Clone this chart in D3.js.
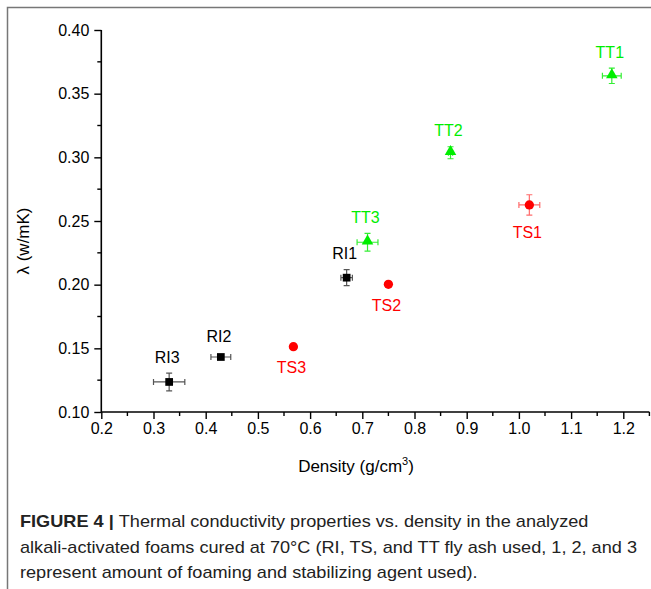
<!DOCTYPE html>
<html>
<head>
<meta charset="utf-8">
<script src="https://cdn.jsdelivr.net/npm/d3@7"></script>
<style>
  body { margin: 0; background: #fff; }
  svg { display: block; font-family: "Liberation Sans", Arial, sans-serif; }
</style>
</head>
<body>
<div id="chart"></div>
<script>
// RI series
var riNames = ["RI1", "RI2", "RI3"],
  riDensity = [0.67, 0.429, 0.33],
  riLambda = [0.2055, 0.1432, 0.1236],
  riDensityErr = [0.011, 0.019, 0.03],
  riLambdaErr = [0.0063, 0.0015, 0.007];

// TS series
var tsNames = ["TS1", "TS2", "TS3"],
  tsDensity = [1.02, 0.75, 0.568],
  tsLambda = [0.2626, 0.2003, 0.1513],
  tsDensityErr = [0.02, 0.005, 0.005],
  tsLambdaErr = [0.008, 0.002, 0.002];

// TT series
var ttNames = ["TT1", "TT2", "TT3"],
  ttDensity = [1.178, 0.869, 0.71],
  ttLambda = [0.364, 0.3036, 0.2333],
  ttDensityErr = [0.018, 0.004, 0.02],
  ttLambdaErr = [0.006, 0.0047, 0.007];

var xTicks = [0.2, 0.3, 0.4, 0.5, 0.6, 0.7, 0.8, 0.9, 1.0, 1.1, 1.2];
var yTicks = [0.10, 0.15, 0.20, 0.25, 0.30, 0.35, 0.40];

var captionLines = [
  "Thermal conductivity properties vs. density in the analyzed",
  "alkali-activated foams cured at 70°C (RI, TS, and TT fly ash used, 1, 2, and 3",
  "represent amount of foaming and stabilizing agent used)."
];

var w = 651,
  h = 589;

var x = d3.scaleLinear().domain([0.2, 1.25]).range([101.3, 649.4]);
var y = d3.scaleLinear().domain([0.1, 0.4]).range([412, 30]);

var svg = d3.select("#chart").append("svg")
  .attr("width", w)
  .attr("height", h);

// frame round the figure
svg.append("path")
  .attr("d", "M7.5,589V7.5H651")
  .attr("fill", "none")
  .attr("stroke", "#777")
  .attr("stroke-width", 1.5);

// axes
var xAxis = d3.axisBottom(x).tickValues(xTicks).tickSize(7).tickPadding(4)
  .tickFormat(d3.format(".1f"));
var yAxis = d3.axisLeft(y).tickValues(yTicks).tickSize(7).tickPadding(5)
  .tickFormat(d3.format(".2f"));

var gx = svg.append("g").attr("transform", "translate(0," + y(0.1) + ")").call(xAxis);
var gy = svg.append("g").attr("transform", "translate(" + x(0.2) + ",0)").call(yAxis);

[gx, gy].forEach(function (g) {
  g.select(".domain").attr("stroke", "#000").attr("stroke-width", 1.6);
  g.selectAll(".tick line").attr("stroke", "#000").attr("stroke-width", 1.4);
  g.selectAll(".tick text").attr("fill", "#000").style("font-size", "16px")
    .style("font-family", "'Liberation Sans', Arial, sans-serif");
});
gx.select(".domain").attr("d", "M" + x(0.2) + ",0H" + x(1.25));
gy.select(".domain").attr("d", "M0," + y(0.1) + "V" + y(0.4));

// minor ticks
var xMinor = d3.range(0.25, 1.26, 0.1);
var yMinor = d3.range(0.125, 0.4, 0.05);
gx.selectAll(".minor").data(xMinor).enter().append("line")
  .attr("x1", function (d) { return x(d); })
  .attr("x2", function (d) { return x(d); })
  .attr("y1", 0).attr("y2", 4)
  .attr("stroke", "#000").attr("stroke-width", 1.4);
gy.selectAll(".minor").data(yMinor).enter().append("line")
  .attr("y1", function (d) { return y(d); })
  .attr("y2", function (d) { return y(d); })
  .attr("x1", 0).attr("x2", -4)
  .attr("stroke", "#000").attr("stroke-width", 1.4);

// axis titles
var xt = svg.append("text")
  .attr("x", 356).attr("y", 472)
  .attr("text-anchor", "middle")
  .style("font-size", "17px");
xt.append("tspan").text("Density (g/cm");
xt.append("tspan").attr("dy", -7).style("font-size", "11px").text("3");
xt.append("tspan").attr("dy", 7).text(")");

svg.append("text")
  .attr("transform", "translate(29,241) rotate(-90)")
  .attr("text-anchor", "middle")
  .style("font-size", "17px")
  .text("λ (w/mK)");

// series
function series(names, dens, lam, dErr, lErr, opts) {
  var data = names.map(function (n, i) {
    return { name: n, x: dens[i], y: lam[i], dx: dErr[i], dy: lErr[i] };
  });
  var g = svg.append("g");
  var cap = 3;
  data.forEach(function (d) {
    var px = x(d.x), py = y(d.y);
    var x0 = x(d.x - d.dx), x1 = x(d.x + d.dx);
    var y0 = y(d.y - d.dy), y1 = y(d.y + d.dy);
    var path = "M" + x0 + "," + py + "H" + x1 +
      "M" + x0 + "," + (py - cap) + "V" + (py + cap) +
      "M" + x1 + "," + (py - cap) + "V" + (py + cap) +
      "M" + px + "," + y0 + "V" + y1 +
      "M" + (px - cap) + "," + y0 + "H" + (px + cap) +
      "M" + (px - cap) + "," + y1 + "H" + (px + cap);
    g.append("path").attr("d", path)
      .attr("fill", "none")
      .attr("stroke", opts.errColor)
      .attr("stroke-width", 1.2);

    g.append("path")
      .attr("d", d3.symbol().type(opts.symbol).size(opts.size)())
      .attr("transform", "translate(" + px + "," + (py + (opts.shift || 0)) + ")")
      .attr("fill", opts.color);

    var ly = opts.above ? Math.min(y1, py - 4) - 16 : Math.max(y0, py + 4) + 17;
    g.append("text")
      .attr("x", px - 2).attr("y", ly)
      .attr("text-anchor", "middle")
      .attr("dominant-baseline", "central")
      .attr("fill", opts.color)
      .style("font-size", "16px")
      .text(d.name);
  });
}

series(riNames, riDensity, riLambda, riDensityErr, riLambdaErr,
  { color: "#000", errColor: "#555", symbol: d3.symbolSquare, size: 60, above: true });
series(tsNames, tsDensity, tsLambda, tsDensityErr, tsLambdaErr,
  { color: "#ff0000", errColor: "#ff6b6b", symbol: d3.symbolCircle, size: 68, above: false });
series(ttNames, ttDensity, ttLambda, ttDensityErr, ttLambdaErr,
  { color: "#00ee00", errColor: "#33ee33", symbol: d3.symbolTriangle, size: 58, above: true, shift: -1 });

// caption, squeezed a little to look like the condensed journal face
var capTexts = [];
var cap1 = svg.append("text").attr("x", 20).attr("y", 527);
cap1.append("tspan").style("font-weight", "bold").text("FIGURE 4 | ");
cap1.append("tspan").text(captionLines[0]);
capTexts.push(cap1);
capTexts.push(svg.append("text").attr("x", 20).attr("y", 553).text(captionLines[1]));
capTexts.push(svg.append("text").attr("x", 20).attr("y", 578).text(captionLines[2]));
capTexts.forEach(function (t) {
  t.style("font-size", "17px").attr("fill", "#222");
});
var squeeze = 617 / capTexts[1].node().getComputedTextLength();
capTexts.forEach(function (t) {
  var len = t.node().getComputedTextLength();
  t.attr("textLength", len * squeeze).attr("lengthAdjust", "spacingAndGlyphs");
});
</script>
</body>
</html>
